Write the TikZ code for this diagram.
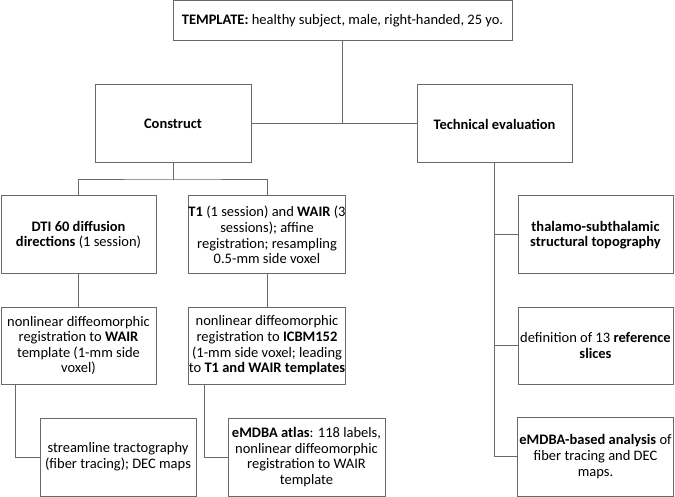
\documentclass[tikz,border=0pt]{standalone}
\usepackage{fontspec}
\setmainfont{Carlito}
\definecolor{lc}{RGB}{105,105,105}
\begin{document}
\begin{tikzpicture}[x=1pt,y=-1pt,
  box/.style={draw=lc, line width=1pt, rectangle, align=center, inner sep=2pt,
    font=\fontsize{14.5}{15.6}\selectfont, text=black},
  conn/.style={draw=lc, line width=1pt}]
\useasboundingbox[fill=white] (0,0) rectangle (675,497);
% level 0
\node[box, minimum width=339pt, minimum height=40pt] (ntop) at (342.5,21)
  {\textbf{TEMPLATE:} healthy subject, male, right-handed, 25 yo.};
% level 1
\node[box, minimum width=156pt, minimum height=78pt] (ncon) at (173,124) {\textbf{Construct}};
\node[box, minimum width=155pt, minimum height=78pt] (ntech) at (494.5,124) {\textbf{Technical evaluation}};
% construct branch
\node[box, minimum width=155pt, minimum height=78pt] (ndti) at (78.5,235)
  {\textbf{DTI 60 diffusion}\\\textbf{directions} (1 session)};
\node[box, minimum width=156pt, minimum height=78pt, inner sep=0pt] (nt1) at (267,235)
  {\textbf{T1} (1 session) and \textbf{WAIR} (3\\sessions); affine\\registration; resampling\\0.5-mm side voxel};
\node[box, minimum width=155pt, minimum height=77pt] (nnl1) at (78.5,345.5)
  {nonlinear diffeomorphic\\registration to \textbf{WAIR}\\template (1-mm side\\voxel)};
\node[box, minimum width=156pt, minimum height=77pt, inner sep=0pt] (nnl2) at (267,345.5)
  {nonlinear diffeomorphic\\registration to \textbf{ICBM152}\\(1-mm side voxel; leading\\to \textbf{T1 and WAIR templates}};
\node[box, minimum width=156pt, minimum height=78pt] (nstr) at (118,457)
  {streamline tractography\\(fiber tracing); DEC maps};
\node[box, minimum width=157pt, minimum height=78pt] (nemd) at (306.5,457)
  {\textbf{eMDBA atlas}: 118 labels,\\nonlinear diffeomorphic\\registration to WAIR\\template};
% technical evaluation branch
\node[box, minimum width=155pt, minimum height=78pt] (nthal) at (595.5,235)
  {\textbf{thalamo-subthalamic}\\\textbf{structural topography}};
\node[box, minimum width=155pt, minimum height=77pt] (ndef) at (595.5,345.5)
  {definition of 13 \textbf{reference}\\\textbf{slices}};
\node[box, minimum width=155pt, minimum height=79pt] (nana) at (595.5,456.5)
  {\textbf{eMDBA-based analysis} of\\fiber tracing and DEC\\maps.};
% connectors
\draw[conn] (ntop.south) -- (ntop.south |- ncon.east);
\draw[conn] (ncon.east) -- (ntech.west);
\coordinate (j1) at (173,180);
\draw[conn] (ncon.south) -- (j1);
\draw[conn] (ndti.north) |- (j1) -| (nt1.north);
\draw[conn] (ndti.south) -- (nnl1.north);
\draw[conn] (nt1.south) -- (nnl2.north);
\draw[conn] ([xshift=15pt]nnl1.south west) |- (nstr.west);
\draw[conn] ([xshift=16pt]nnl2.south west) |- (nemd.west);
\draw[conn] (ntech.south) |- (nana.west);
\draw[conn] (ntech.south |- nthal.west) -- (nthal.west);
\draw[conn] (ntech.south |- ndef.west) -- (ndef.west);
\end{tikzpicture}
\end{document}
